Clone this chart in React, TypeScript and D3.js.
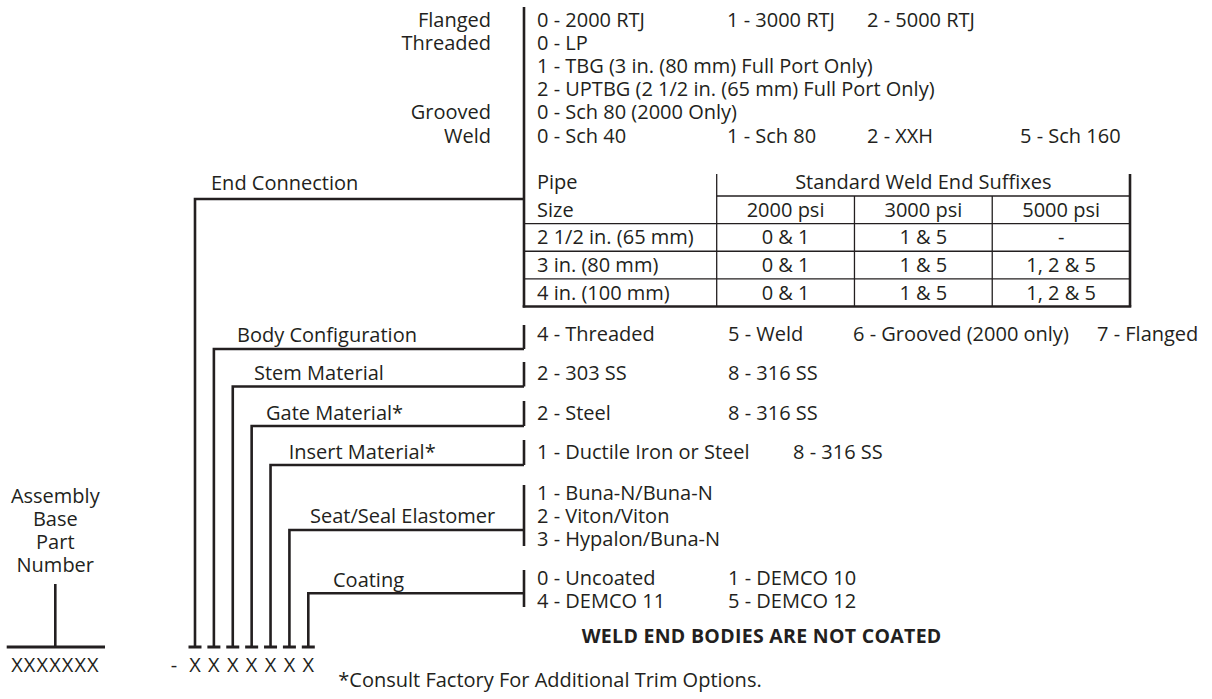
import React from "react";
import * as d3 from "d3";

// ---------- data ----------
const endConnectionTypes = ["Flanged", "Threaded", "", "", "Grooved", "Weld"];
const endConnectionOptions = [
  ["0 - 2000 RTJ", "1 - 3000 RTJ", "2 - 5000 RTJ"],
  ["0 - LP"],
  ["1 - TBG (3 in. (80 mm) Full Port Only)"],
  ["2 - UPTBG (2 1/2 in. (65 mm) Full Port Only)"],
  ["0 - Sch 80 (2000 Only)"],
  ["0 - Sch 40", "1 - Sch 80", "2 - XXH", "5 - Sch 160"],
];
const pipeHeader = ["Pipe", "Size"];
const suffixHeader = "Standard Weld End Suffixes";
const pipeSizes = ["2 1/2 in. (65 mm)", "3 in. (80 mm)", "4 in. (100 mm)"];
const pressureClasses = ["2000 psi", "3000 psi", "5000 psi"];
const suffixes2000 = ["0 & 1", "0 & 1", "0 & 1"];
const suffixes3000 = ["1 & 5", "1 & 5", "1 & 5"];
const suffixes5000 = ["-", "1, 2 & 5", "1, 2 & 5"];

const digitSections = [
  "End Connection",
  "Body Configuration",
  "Stem Material",
  "Gate Material*",
  "Insert Material*",
  "Seat/Seal Elastomer",
  "Coating",
];
const bodyConfigOptions = [["4 - Threaded", "5 - Weld", "6 - Grooved (2000 only)", "7 - Flanged"]];
const stemOptions = [["2 - 303 SS", "8 - 316 SS"]];
const gateOptions = [["2 - Steel", "8 - 316 SS"]];
const insertOptions = [["1 - Ductile Iron or Steel", "8 - 316 SS"]];
const sealOptions = [["1 - Buna-N/Buna-N"], ["2 - Viton/Viton"], ["3 - Hypalon/Buna-N"]];
const coatingOptions = [["0 - Uncoated", "1 - DEMCO 10"], ["4 - DEMCO 11", "5 - DEMCO 12"]];
const baseLabel = ["Assembly", "Base", "Part", "Number"];
const baseCode = "XXXXXXX";
const digitChar = "X";
const noteBold = "WELD END BODIES ARE NOT COATED";
const footNote = "*Consult Factory For Additional Trim Options.";

// ---------- layout ----------
const W = 1212;
const H = 699;
const INK = "#231f20";
const FONT = "'Open Sans', 'Noto Sans', sans-serif";
const FS = 20;
const SPINE = 524;
const OPT_X = 537;
const LABEL_RIGHT = 491;
const DIGIT_BOTTOM = 647;

const digitX = d3.scalePoint<number>().domain(d3.range(7)).range([195, 308.3]);
const topRowY = d3.scaleLinear().domain([0, 5]).range([27, 142.5]);
const tableLineY = d3.scaleLinear().domain([0, 4]).range([196, 306.5]);
const tableColX = d3.scaleLinear().domain([0, 3]).range([716.7, 1130]);
const topCols = [OPT_X, 727, 867, 1020];

const lowerLayout = [
  { labelX: 237, labelY: 341.5, lineY: 349, tickTop: 325, tickBot: 349, optY: [341], cols: [OPT_X, 728, 853, 1097], opts: bodyConfigOptions },
  { labelX: 254, labelY: 380, lineY: 386.5, tickTop: 362, tickBot: 386.5, optY: [380], cols: [OPT_X, 728], opts: stemOptions },
  { labelX: 266, labelY: 419.5, lineY: 426, tickTop: 401, tickBot: 426, optY: [419.5], cols: [OPT_X, 728], opts: gateOptions },
  { labelX: 288.7, labelY: 459, lineY: 465, tickTop: 440, tickBot: 465, optY: [459], cols: [OPT_X, 793], opts: insertOptions },
  { labelX: 310, labelY: 523, lineY: 530, tickTop: 485, tickBot: 546, optY: [500, 523, 546], cols: [OPT_X], opts: sealOptions },
  { labelX: 333, labelY: 586.5, lineY: 593.3, tickTop: 570, tickBot: 607, optY: [585, 608], cols: [OPT_X, 728], opts: coatingOptions },
];

const T = (props: any) => (
  <text fontFamily={FONT} fontSize={FS} fill={INK} {...props} />
);

export default function App() {
  const lw = 2.6;
  const thin = 1.3;
  const suffixCols = [suffixes2000, suffixes3000, suffixes5000];
  return (
    <svg
      width={W}
      height={H}
      viewBox={`0 0 ${W} ${H}`}
      style={{ position: "absolute", left: 0, top: 0, background: "#fff" }}
    >
      <rect x={0} y={0} width={W} height={H} fill="#fff" />

      {/* ---- End connection top block ---- */}
      <line x1={SPINE} x2={SPINE} y1={7} y2={307.5} stroke={INK} strokeWidth={lw} />
      <T textAnchor="end">
        {endConnectionTypes.map((t, i) =>
          t ? (
            <tspan key={"ect" + i} x={LABEL_RIGHT} y={topRowY(i)}>
              {t}
            </tspan>
          ) : null
        )}
      </T>
      <T>
        {endConnectionOptions.map((row, i) =>
          row.map((o, j) => (
            <tspan key={"eco" + i + "-" + j} x={topCols[j]} y={topRowY(i)}>
              {o}
            </tspan>
          ))
        )}
      </T>

      {/* End connection label & leader */}
      <T x={211} y={190}>{digitSections[0]}</T>
      <path
        d={`M${digitX(0)},${DIGIT_BOTTOM} V199 H${SPINE}`}
        fill="none"
        stroke={INK}
        strokeWidth={lw}
      />

      {/* ---- Table ---- */}
      <g>
        <T>
          <tspan x={OPT_X} y={189}>{pipeHeader[0]}</tspan>
          <tspan x={OPT_X} y={tableLineY(1) - 7}>{pipeHeader[1]}</tspan>
        </T>
        <T x={(tableColX(0) + tableColX(3)) / 2} y={189} textAnchor="middle">
          {suffixHeader}
        </T>
        {pressureClasses.map((p, j) => (
          <T key={"pc" + j} x={(tableColX(j) + tableColX(j + 1)) / 2} y={tableLineY(1) - 7} textAnchor="middle">
            {p}
          </T>
        ))}
        {pipeSizes.map((s, i) => (
          <T key={"ps" + i} x={OPT_X} y={tableLineY(i + 2) - 7}>
            {s}
          </T>
        ))}
        {suffixCols.map((col, j) =>
          col.map((v, i) => (
            <T
              key={"sf" + j + "-" + i}
              x={(tableColX(j) + tableColX(j + 1)) / 2}
              y={tableLineY(i + 2) - 7}
              textAnchor="middle"
            >
              {v}
            </T>
          ))
        )}
        {/* header underline */}
        <line x1={tableColX(0)} x2={tableColX(3)} y1={tableLineY(0)} y2={tableLineY(0)} stroke={INK} strokeWidth={thin} />
        {[1, 2, 3].map((k) => (
          <line key={"hl" + k} x1={SPINE} x2={tableColX(3)} y1={tableLineY(k)} y2={tableLineY(k)} stroke={INK} strokeWidth={thin} />
        ))}
        <line x1={SPINE - 1.3} x2={tableColX(3) + 1.3} y1={tableLineY(4)} y2={tableLineY(4)} stroke={INK} strokeWidth={lw} />
        {/* verticals */}
        <line x1={tableColX(0)} x2={tableColX(0)} y1={174} y2={tableLineY(4)} stroke={INK} strokeWidth={thin} />
        {[1, 2].map((k) => (
          <line key={"vl" + k} x1={tableColX(k)} x2={tableColX(k)} y1={tableLineY(0)} y2={tableLineY(4)} stroke={INK} strokeWidth={thin} />
        ))}
        <line x1={tableColX(3)} x2={tableColX(3)} y1={174} y2={tableLineY(4)} stroke={INK} strokeWidth={lw} />
      </g>

      {/* ---- Lower sections ---- */}
      {lowerLayout.map((s, k) => (
        <g key={"sec" + k}>
          <T x={s.labelX} y={s.labelY}>{digitSections[k + 1]}</T>
          <path
            d={`M${digitX(k + 1)},${DIGIT_BOTTOM} V${s.lineY} H${SPINE}`}
            fill="none"
            stroke={INK}
            strokeWidth={lw}
          />
          <line x1={SPINE} x2={SPINE} y1={s.tickTop} y2={s.tickBot} stroke={INK} strokeWidth={lw} />
          <T>
            {s.opts.map((row, i) =>
              row.map((o, j) => (
                <tspan key={"o" + i + "-" + j} x={s.cols[j]} y={s.optY[i]}>
                  {o}
                </tspan>
              ))
            )}
          </T>
        </g>
      ))}

      {/* digit caps and X characters */}
      {d3.range(7).map((i) => (
        <line
          key={"dc" + i}
          x1={(digitX(i) as number) - 6.5}
          x2={(digitX(i) as number) + 6.5}
          y1={DIGIT_BOTTOM}
          y2={DIGIT_BOTTOM}
          stroke={INK}
          strokeWidth={3}
        />
      ))}
      <T textAnchor="middle">
        <tspan x={174} y={672}>-</tspan>
        {d3.range(7).map((i) => (
          <tspan key={"dg" + i} x={digitX(i)} y={672}>
            {digitChar}
          </tspan>
        ))}
      </T>

      {/* Assembly base part number */}
      <T textAnchor="middle">
        {baseLabel.map((t, i) => (
          <tspan key={"bl" + i} x={55.3} y={503 + i * 23}>
            {t}
          </tspan>
        ))}
      </T>
      <line x1={55.3} x2={55.3} y1={584} y2={DIGIT_BOTTOM} stroke={INK} strokeWidth={lw} />
      <line x1={6.7} x2={105} y1={DIGIT_BOTTOM} y2={DIGIT_BOTTOM} stroke={INK} strokeWidth={3} />
      <T x={55.5} y={672} textAnchor="middle" letterSpacing={1.1}>{baseCode}</T>

      {/* notes */}
      <T x={581.7} y={643} fontWeight="bold" fontSize={19.5} letterSpacing={0.3}>{noteBold}</T>
      <T x={338.3} y={687}>{footNote}</T>
    </svg>
  );
}
